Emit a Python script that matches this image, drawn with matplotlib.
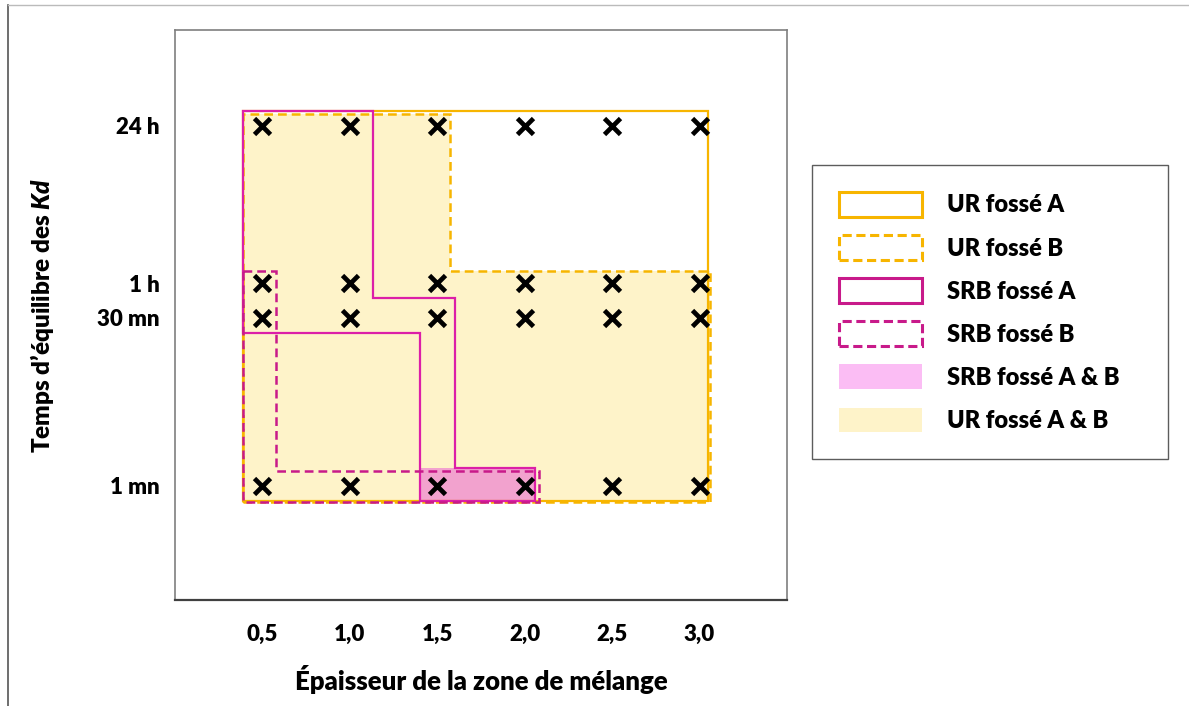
import matplotlib
matplotlib.use("Agg")
import matplotlib.pyplot as plt
from matplotlib.patches import Polygon, Patch
from matplotlib.lines import Line2D

plt.rcParams['font.family'] = ['Lato', 'DejaVu Sans']
plt.rcParams['font.weight'] = 'heavy'
plt.rcParams['mathtext.fontset'] = 'custom'
plt.rcParams['mathtext.it'] = 'Lato:italic:heavy'
plt.rcParams['mathtext.rm'] = 'Lato:heavy'

# data: tested thicknesses and equilibrium times (minutes)
thickness = [0.5, 1.0, 1.5, 2.0, 2.5, 3.0]
thick_labels = ['0,5', '1,0', '1,5', '2,0', '2,5', '3,0']
times = [1, 30, 60, 1440]
time_labels = ['1 mn', '30 mn', '1 h', '24 h']

# zones (thickness, minutes)
ur_a = [(0.39, 0.74), (3.05, 0.74), (3.05, 1950), (0.39, 1950)]
ur_b = [(0.39, 0.72), (3.06, 0.72), (3.06, 77), (1.57, 77), (1.57, 1830), (0.39, 1830)]
srb_a = [(0.39, 1950), (1.13, 1950), (1.13, 44.5), (1.6, 44.5), (1.6, 1.44),
         (2.06, 1.44), (2.06, 0.74), (1.4, 0.74), (1.4, 22), (0.39, 22)]
srb_b = [(0.39, 77), (0.58, 77), (0.58, 1.35), (2.08, 1.35), (2.08, 0.72), (0.39, 0.72)]
srb_ab = [(1.4, 0.74), (2.06, 0.74), (2.06, 1.44), (1.4, 1.44)]

ORANGE = '#F7B500'
MAGENTA = '#DC1FA8'
MAGENTA_D = '#C81A8A'
YELLOW = '#FEF3C9'
PINK = '#F2A2CE'

fig = plt.figure(figsize=(11.89, 7.06), dpi=100)
ax = fig.add_axes([175/1189, 1-600/706, 612/1189, 570/706])
ax.set_yscale('log')
ax.set_xlim(0, 3.5)
ax.set_ylim(0.1, 10000)

ax.add_patch(Polygon(ur_b, closed=True, facecolor=YELLOW, edgecolor='none', zorder=1))
ax.add_patch(Polygon(srb_ab, closed=True, facecolor=PINK, edgecolor='none', zorder=1.5))
ax.add_patch(Polygon(ur_a, closed=True, fill=False, edgecolor=ORANGE, lw=1.6, zorder=2))
ax.add_patch(Polygon(ur_b, closed=True, fill=False, edgecolor=ORANGE, lw=1.8,
                     linestyle=(0, (3.5, 2)), zorder=2))
ax.add_patch(Polygon(srb_a, closed=True, fill=False, edgecolor=MAGENTA, lw=1.6, zorder=3))
ax.add_patch(Polygon(srb_b, closed=True, fill=False, edgecolor=MAGENTA_D, lw=1.8,
                     linestyle=(0, (3.5, 2)), zorder=3))

for t in times:
    ax.plot(thickness, [t]*len(thickness), linestyle='none', marker='x', ms=11,
            mew=3.4, color='black', zorder=5)

ax.minorticks_off()
ax.set_xticks(thickness)
ax.set_xticklabels(thick_labels, fontsize=16, fontweight='heavy')
ax.set_yticks(times)
ax.set_yticklabels(time_labels, fontsize=16, fontweight='heavy')
ax.tick_params(axis='both', length=0)
ax.tick_params(axis='x', pad=17)
ax.tick_params(axis='y', pad=11)
for s in ax.spines.values():
    s.set_color('#7f7f7f')
    s.set_linewidth(1.2)
ax.spines['bottom'].set_color('#404040')
ax.spines['bottom'].set_linewidth(1.6)

ax.set_xlabel('Épaisseur de la zone de mélange', fontsize=18.5, fontweight='heavy', labelpad=15)
ax.set_ylabel(r'Temps d’équilibre des $Kd$', fontsize=17.5, fontweight='heavy', labelpad=30)

handles = [
    Patch(facecolor='white', edgecolor=ORANGE, lw=2.2),
    Patch(facecolor='white', edgecolor=ORANGE, lw=2.2, linestyle=(0, (3, 1.5))),
    Patch(facecolor='white', edgecolor=MAGENTA_D, lw=2.2),
    Patch(facecolor='white', edgecolor=MAGENTA_D, lw=2.2, linestyle=(0, (3, 1.5))),
    Patch(facecolor='#FBBDF4', edgecolor='none'),
    Patch(facecolor=YELLOW, edgecolor='none'),
]
labels = ['UR fossé A', 'UR fossé B', 'SRB fossé A', 'SRB fossé B',
          'SRB fossé A & B', 'UR fossé A & B']
leg = fig.legend(handles, labels, loc='upper left',
                 bbox_to_anchor=(812/1189, 1-462/706, 356/1189, 297/706),
                 mode='expand', fancybox=False, frameon=True, edgecolor='#333333',
                 fontsize=17, handlelength=3.5, handleheight=1.23, labelspacing=0.78,
                 handletextpad=1.05, borderpad=1.15, borderaxespad=0)
leg.get_frame().set_linewidth(1.0)
for txt in leg.get_texts():
    txt.set_fontweight('heavy')

# frame of the original image
fig.add_artist(Line2D([8/1189, 8/1189], [0, 1-5/706], color='#555555', lw=1.2))
fig.add_artist(Line2D([8/1189, 1], [1-5/706, 1-5/706], color='#bbbbbb', lw=1.0))

fig.savefig('out.png', dpi=100)
